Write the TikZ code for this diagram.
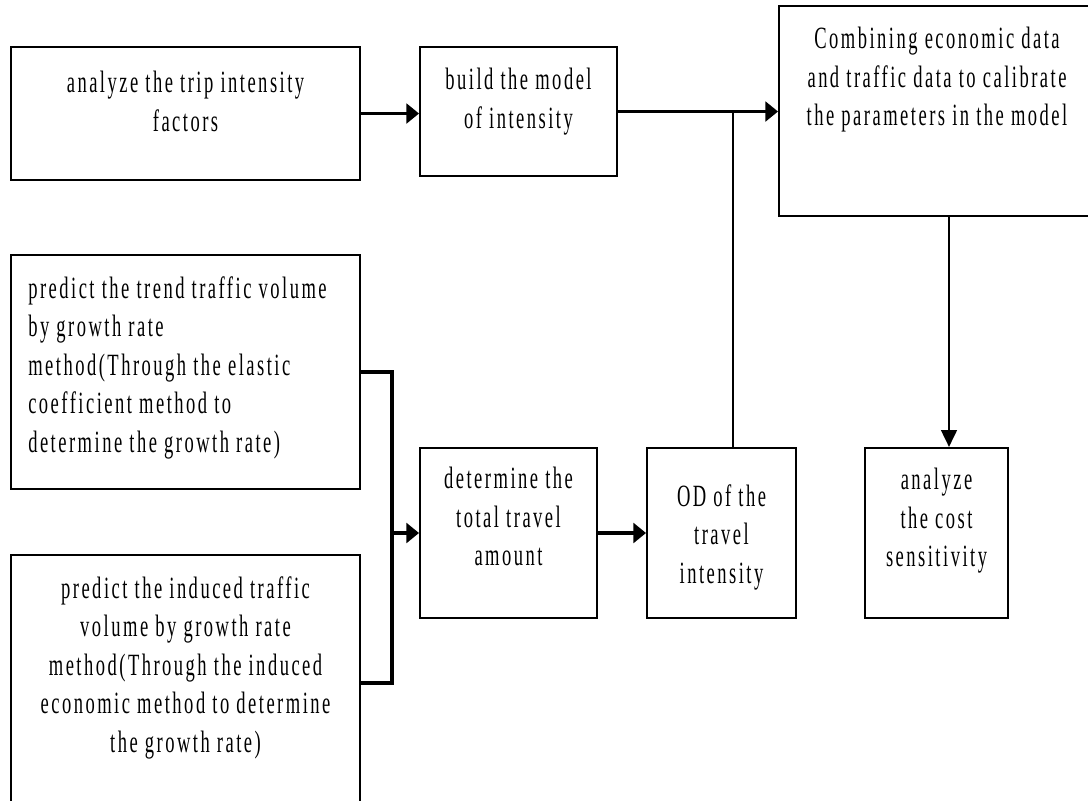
\documentclass[tikz,border=0pt]{standalone}
\usepackage{fontspec}
\setmainfont{Liberation Serif}[FakeStretch=0.6,LetterSpace=8]
\usetikzlibrary{arrows.meta}

\tikzset{
  box/.style={draw,line width=1.4pt,inner sep=0pt},
  txt/.style={inner sep=0pt,align=center,font=\fontsize{22}{27.4}\selectfont},
  flow/.style={line width=2.8pt,-{Triangle[length=9pt,width=14pt]}},
}

\begin{document}
\begin{tikzpicture}
\useasboundingbox (0.000,0.000) rectangle (27.200,-20.000);
\node[box,minimum width=8.725cm,minimum height=3.325cm] (trip) at (4.638,-2.838) {};
\node[box,minimum width=4.925cm,minimum height=3.225cm] (model) at (12.963,-2.788) {};
\node[box,minimum width=7.900cm,minimum height=5.250cm] (calib) at (23.425,-2.775) {};
\node[box,minimum width=8.725cm,minimum height=5.850cm] (trend) at (4.638,-9.300) {};
\node[box,minimum width=8.725cm,minimum height=6.375cm] (induced) at (4.638,-17.063) {};
\node[box,minimum width=4.425cm,minimum height=4.250cm] (total) at (12.713,-13.325) {};
\node[box,minimum width=3.725cm,minimum height=4.250cm] (od) at (18.038,-13.325) {};
\node[box,minimum width=3.575cm,minimum height=4.250cm] (cost) at (23.413,-13.325) {};
\node[txt,anchor=north] (trip-t) at (4.638,-1.775) {analyze the trip intensity\\factors};
\node[txt,anchor=north] (model-t) at (12.963,-1.700) {build the model\\of intensity};
\node[txt,anchor=north] (calib-t) at (23.425,-0.675) {Combining economic data\\and traffic data to calibrate\\the parameters in the model};
\node[txt,anchor=north west,align=left] (trend-t) at (0.700,-6.900) {predict the trend traffic volume\\by growth rate\\method(Through the elastic\\coefficient method to\\determine the growth rate)};
\node[txt,anchor=north] (induced-t) at (4.638,-14.400) {predict the induced traffic\\volume by growth rate\\method(Through the induced\\economic method to determine\\the growth rate)};
\node[txt,anchor=north] (total-t) at (12.713,-11.675) {determine the\\total travel\\amount};
\node[txt,anchor=north] (od-t) at (18.038,-12.100) {OD of the\\travel\\intensity};
\node[txt,anchor=north] (cost-t) at (23.413,-11.700) {analyze\\the cost\\sensitivity};
\draw[flow] (trip.east) -- (trip.east -| model.west);
\draw[flow,line width=2.4pt] (model.east) -- (model.east -| calib.west);
\draw[line width=1.4pt] ([xshift=0.288cm]od.north) -- ([xshift=0.288cm]od.north |- model.east);
\draw[flow,line width=2pt,-{Triangle[length=12pt,width=11pt]}] ([xshift=0.300cm]calib.south) -- ([xshift=0.300cm]calib.south |- cost.north);
\draw[line width=2.8pt] (trend.east) -- ++(0.775,0) |- (induced.east);
\draw[flow] ([xshift=-0.725cm]total.west) -- (total.west);
\draw[flow] (total.east) -- (od.west);
\end{tikzpicture}
\end{document}
